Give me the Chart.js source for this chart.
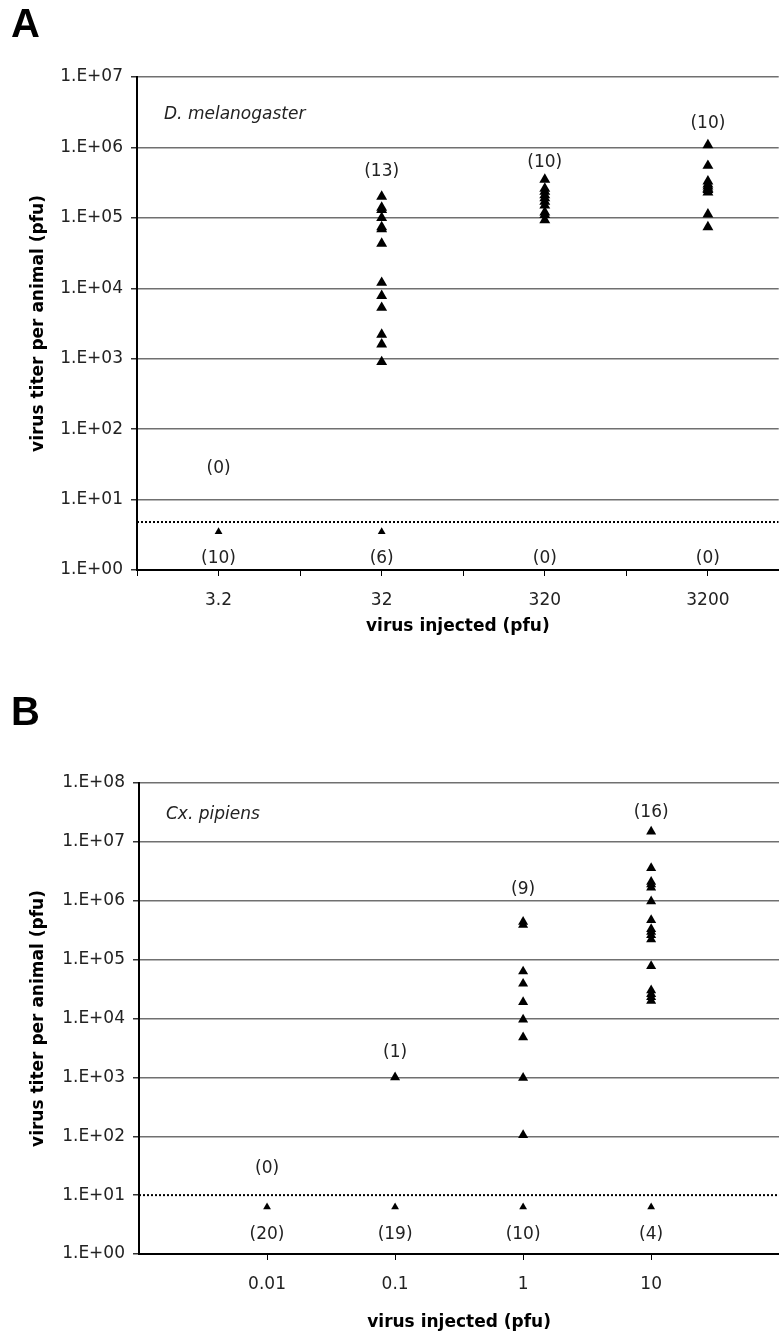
<!DOCTYPE html>
<html>
<head>
<meta charset="utf-8">
<script src="https://cdn.jsdelivr.net/npm/chart.js@4.4.1/dist/chart.umd.min.js"></script>
<style>
  html, body { margin: 0; padding: 0; background: #fff; overflow: hidden; }
  #wrap { position: relative; width: 779px; height: 1337px; overflow: hidden; }
  canvas { position: absolute; left: 0; }
  #chartA { top: 0; }
  #chartB { top: 660px; }
</style>
</head>
<body>
<div id="wrap">
  <canvas id="chartA" width="785" height="645"></canvas>
  <canvas id="chartB" width="785" height="677"></canvas>
</div>
<script>
// Panel A: D. melanogaster
const dosesA = ['3.2', '32', '320', '3200'];
const titersA = [
    [],
    [2.0e5, 1.4e5, 1.3e5, 1.0e5, 7.4e4, 6.9e4, 4.3e4, 1.2e4, 7.8e3, 5.3e3, 2.2e3, 1.6e3, 9.0e2],
    [3.5e5, 2.6e5, 2.35e5, 2.1e5, 1.9e5, 1.7e5, 1.5e5, 1.2e5, 1.1e5, 9.3e4],
    [1.08e6, 5.5e5, 3.3e5, 3.0e5, 2.8e5, 2.6e5, 2.5e5, 2.3e5, 1.12e5, 7.4e4]
];
const countsAboveA = ['(0)', '(13)', '(10)', '(10)'];
const countsAboveAtA = [28, 4.5e5, 6.0e5, 2.2e6];
const countsBelowA = ['(10)', '(6)', '(0)', '(0)'];
const belowMarkA = [3.5, 3.5, null, null];
const detectionLimitA = 4.8;

// Panel B: Cx. pipiens
const dosesB = ['0.01', '0.1', '1', '10'];
const titersB = [
    [],
    [1.0e3],
    [4.4e5, 3.9e5, 6.3e4, 3.9e4, 1.9e4, 9.6e3, 4.8e3, 9.8e2, 1.05e2],
    [1.5e7, 3.6e6, 2.1e6, 1.9e6, 1.67e6, 9.8e5, 4.7e5, 3.3e5, 2.96e5, 2.6e5, 2.2e5, 7.8e4, 3.0e4, 2.6e4, 2.3e4, 2.0e4]
];
const countsAboveB = ['(0)', '(1)', '(9)', '(16)'];
const countsAboveAtB = [28, 2.6e3, 1.55e6, 3.2e7];
const countsBelowB = ['(20)', '(19)', '(10)', '(4)'];
const belowMarkB = [6.3, 6.3, 6.3, 6.3];
const detectionLimitB = 10;

Chart.defaults.font.family = "'DejaVu Sans', Verdana, sans-serif";
Chart.defaults.font.size = 17;
Chart.defaults.color = '#222';

const expLabel = (v) => {
    const e = Math.round(Math.log10(v));
    return '1.E+' + (e < 10 ? '0' + e : e);
};

// text annotations: count labels, species name, panel letter
const annotate = {
    id: 'annotate',
    afterDatasetsDraw(chart, args, opts) {
        const { ctx, chartArea, scales: { x, y } } = chart;
        ctx.save();
        ctx.fillStyle = '#222';
        ctx.textAlign = 'center';
        ctx.textBaseline = 'middle';
        ctx.font = "17px 'DejaVu Sans'";
        opts.above.forEach((t, i) => {
            ctx.fillText(t, x.getPixelForValue(opts.xOffset + i), y.getPixelForValue(opts.aboveAt[i]));
        });
        opts.below.forEach((t, i) => {
            ctx.fillText(t, x.getPixelForValue(opts.xOffset + i), y.getPixelForValue(opts.belowAt));
        });
        ctx.textAlign = 'left';
        ctx.font = "italic 17px 'DejaVu Sans'";
        ctx.fillText(opts.species, chartArea.left + 27, chartArea.top + opts.speciesDy);
        ctx.font = "bold 40px 'Liberation Sans'";
        ctx.textBaseline = 'alphabetic';
        ctx.fillStyle = '#000';
        ctx.fillText(opts.letter, 11, opts.letterY);
        ctx.restore();
    }
};

const makePanel = (id, p) => {
    const columns = p.titers.map((vals, i) => vals.map(v => ({ x: p.xOffset + i, y: v })));
    const bottoms = p.belowMark
        .map((v, i) => (v === null ? null : { x: p.xOffset + i, y: v }))
        .filter(d => d !== null);

    return new Chart(document.getElementById(id), {
        type: 'scatter',
        data: {
            datasets: [
                {
                    data: columns.flat(),
                    pointStyle: 'triangle',
                    pointRadius: p.markerSize,
                    backgroundColor: '#000',
                    borderColor: '#000',
                    borderWidth: 0
                },
                {
                    data: bottoms,
                    pointStyle: 'triangle',
                    pointRadius: 4.5,
                    backgroundColor: '#000',
                    borderColor: '#000',
                    borderWidth: 0
                },
                {
                    data: [{ x: p.xMin, y: p.limit }, { x: p.xMax, y: p.limit }],
                    showLine: true,
                    borderColor: '#000',
                    borderWidth: 2,
                    borderDash: [2, 2],
                    pointRadius: 0
                }
            ]
        },
        options: {
            responsive: false,
            animation: false,
            devicePixelRatio: 1,
            layout: { padding: { top: p.padTop, left: 24, right: 0, bottom: p.padBottom } },
            plugins: {
                legend: { display: false },
                tooltip: { enabled: false },
                annotate: {
                    above: p.above, aboveAt: p.aboveAt, below: p.below, belowAt: p.belowAt,
                    xOffset: p.xOffset, species: p.species, speciesDy: p.speciesDy,
                    letter: p.letter, letterY: p.letterY
                }
            },
            scales: {
                x: {
                    type: 'linear',
                    min: p.xMin,
                    max: p.xMax,
                    afterBuildTicks: (s) => { s.ticks = p.xTicks.map(v => ({ value: v })); },
                    afterFit: (s) => { s.height = p.xHeight; },
                    ticks: {
                        autoSkip: false,
                        maxRotation: 0,
                        padding: 14,
                        callback: (v) => {
                            const i = v - p.xOffset;
                            return Number.isInteger(i) && p.doses[i] !== undefined ? p.doses[i] : '';
                        }
                    },
                    grid: { drawOnChartArea: false, tickLength: 6, color: '#000', lineWidth: 1 },
                    border: { color: '#000', width: 2 },
                    title: {
                        display: true,
                        text: 'virus injected (pfu)',
                        font: { size: 17, weight: 'bold' },
                        color: '#000'
                    }
                },
                y: {
                    type: 'logarithmic',
                    min: 1,
                    max: p.yMax,
                    afterBuildTicks: (s) => {
                        const t = [];
                        for (let v = 1; v <= p.yMax; v *= 10) t.push({ value: v });
                        s.ticks = t;
                    },
                    afterFit: (s) => { s.width = p.yWidth; },
                    ticks: { padding: 8, callback: (v) => expLabel(v) },
                    grid: {
                        color: (c) => (c.tick && c.tick.value === p.limit ? 'rgba(0,0,0,0)' : '#707070'),
                        tickColor: '#333',
                        lineWidth: 1.5,
                        tickLength: 6
                    },
                    border: { color: '#000', width: 2 },
                    title: {
                        display: true,
                        text: 'virus titer per animal (pfu)',
                        font: { size: 17, weight: 'bold' },
                        color: '#000'
                    }
                }
            }
        },
        plugins: [annotate]
    });
};

makePanel('chartA', {
    doses: dosesA, titers: titersA, belowMark: belowMarkA, limit: detectionLimitA,
    above: countsAboveA, aboveAt: countsAboveAtA, below: countsBelowA, belowAt: 1.43,
    xOffset: 0, xMin: -0.5, xMax: 3.434, xTicks: [-0.5, 0, 0.5, 1, 1.5, 2, 2.5, 3],
    yMax: 1e7, padTop: 77, padBottom: 4, xHeight: 71, yWidth: 113, markerSize: 6.3,
    species: 'D. melanogaster', speciesDy: 38, letter: 'A', letterY: 37
});

makePanel('chartB', {
    doses: dosesB, titers: titersB, belowMark: belowMarkB, limit: detectionLimitB,
    above: countsAboveB, aboveAt: countsAboveAtB, below: countsBelowB, belowAt: 2.1,
    xOffset: 1, xMin: 0, xMax: 5, xTicks: [1, 2, 3, 4],
    yMax: 1e8, padTop: 123, padBottom: 0, xHeight: 83, yWidth: 115, markerSize: 5.8,
    species: 'Cx. pipiens', speciesDy: 32, letter: 'B', letterY: 65
});
</script>
</body>
</html>
